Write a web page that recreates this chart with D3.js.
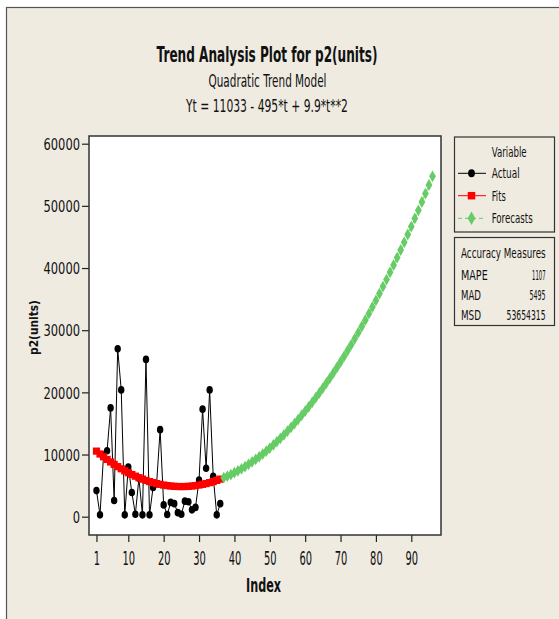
<!DOCTYPE html>
<html><head><meta charset="utf-8">
<script src="https://cdn.jsdelivr.net/npm/d3@7"></script>
<style>html,body{margin:0;padding:0;background:#fff;}svg{display:block;}</style>
</head><body>
<script>
// ---- data ----
const actualIndex = d3.range(1, 37);
const actual = [4200, 300, 9900, 10600, 17500, 2600, 27000, 20400, 300, 8000,
  3900, 400, 6200, 300, 25300, 300, 4700, 5300, 14000, 1900,
  350, 2300, 2100, 650, 400, 2500, 2400, 1100, 1500, 5900,
  17300, 7800, 20400, 6500, 300, 2100];
const fits = [10548, 10083, 9637, 9211, 8806, 8419, 8053, 7707, 7380, 7073,
  6786, 6519, 6271, 6043, 5836, 5647, 5479, 5331, 5202, 5093,
  5004, 4935, 4885, 4855, 4846, 4855, 4885, 4935, 5004, 5093,
  5202, 5331, 5479, 5647, 5836, 6043];
const forecastIndex = d3.range(37, 97);
const forecasts = [6271, 6519, 6786, 7073, 7380, 7707, 8053, 8419, 8806, 9211,
  9637, 10083, 10548, 11033, 11538, 12063, 12607, 13171, 13756, 14359,
  14983, 15627, 16290, 16973, 17676, 18399, 19141, 19903, 20686, 21487,
  22309, 23151, 24012, 24893, 25794, 26715, 27655, 28615, 29596, 30595,
  31615, 32655, 33714, 34793, 35892, 37011, 38149, 39307, 40486, 41683,
  42901, 44139, 45396, 46673, 47970, 49287, 50623, 51979, 53356, 54751];
const xTicks = [1, 10, 20, 30, 40, 50, 60, 70, 80, 90];
const yTicks = [0, 10000, 20000, 30000, 40000, 50000, 60000];
const titleText = "Trend Analysis Plot for p2(units)";
const subtitleText = "Quadratic Trend Model";
const equationText = "Yt = 11033 - 495*t + 9.9*t**2";
const legendLabels = ["Actual", "Fits", "Forecasts"];
const accuracyNames = ["MAPE", "MAD", "MSD"];
const accuracyValues = ["1107", "5495", "53654315"];

// ---- layout ----
const W = 559, H = 619;
const bg = "#EFEBE1";
const FONT = "'DejaVu Sans', Verdana, sans-serif";
const plot = {l: 89, t: 136, r: 441, b: 535};

const svg = d3.select("body").append("svg").attr("width", W).attr("height", H);
svg.append("rect").attr("x", 6.5).attr("y", 7.5).attr("width", 600).attr("height", 700)
  .attr("fill", bg).attr("stroke", "#555").attr("stroke-width", 1.2);

const x = d3.scaleLinear().domain([-1.109, 98.4]).range([plot.l, plot.r]);
const y = d3.scaleLinear().domain([-2944, 61239]).range([plot.b, plot.t]);

// text compressed horizontally to a target width
function squeeze(sel, tx, ty, w, extra) {
  const L = sel.node().getComputedTextLength();
  const sx = L > 0 ? w / L : 1;
  sel.attr("x", null).attr("y", null)
    .attr("transform", `translate(${tx},${ty}) ${extra || ""} scale(${sx},1)`);
  return sel;
}
function addText(tx, ty, txt, size, w, opts) {
  opts = opts || {};
  const t = svg.append("text").attr("font-family", FONT).attr("font-size", size)
    .attr("font-weight", opts.bold ? "bold" : "normal").attr("fill", "#111")
    .attr("text-anchor", opts.anchor || "start").text(txt);
  return squeeze(t, tx, ty, w, opts.extra);
}

// titles
addText(267, 61.5, titleText, 22, 221, {bold: true, anchor: "middle"});
addText(267.5, 86.5, subtitleText, 17, 118, {anchor: "middle"});
addText(267, 111.5, equationText, 17, 162, {anchor: "middle"});

// plot area
svg.append("rect").attr("x", plot.l).attr("y", plot.t).attr("width", plot.r - plot.l)
  .attr("height", plot.b - plot.t).attr("fill", "#fff");

// axes
const gx = svg.append("g").attr("transform", `translate(0,${plot.b})`)
  .call(d3.axisBottom(x).tickValues(xTicks).tickSize(7).tickSizeOuter(0).tickFormat(d3.format("d")));
gx.select(".domain").remove();
gx.selectAll(".tick line").attr("stroke", "#222").attr("stroke-width", 1.2);
gx.selectAll(".tick text").attr("dy", 0).attr("font-family", FONT)
  .attr("font-size", 19).attr("fill", "#111")
  .each(function(d) { const n = String(d).length; squeeze(d3.select(this), 0, 30, n * 6.3); });

const gy = svg.append("g").attr("transform", `translate(${plot.l},0)`)
  .call(d3.axisLeft(y).tickValues(yTicks).tickSize(7).tickSizeOuter(0).tickFormat(d3.format("d")));
gy.select(".domain").remove();
gy.selectAll(".tick line").attr("stroke", "#222").attr("stroke-width", 1.2);
gy.selectAll(".tick text").attr("dy", "0.36em").attr("font-family", FONT)
  .attr("font-size", 16).attr("fill", "#111")
  .each(function(d) { const n = String(d).length; squeeze(d3.select(this), -9, 0, n * 7.3); });

// axis titles
addText(263.5, 591.5, "Index", 19, 35, {bold: true, anchor: "middle"});
addText(38, 327.5, "p2(units)", 12, 55, {bold: true, anchor: "middle", extra: "rotate(-90)"});

// series
svg.append("clipPath").attr("id", "clip").append("rect")
  .attr("x", plot.l).attr("y", plot.t).attr("width", plot.r - plot.l).attr("height", plot.b - plot.t);
const g = svg.append("g").attr("clip-path", "url(#clip)");

const actualData = actualIndex.map((t, i) => ({t, v: actual[i]}));
const fitData = actualIndex.map((t, i) => ({t, v: fits[i]}));
const fcData = forecastIndex.map((t, i) => ({t, v: forecasts[i]}));
const line = d3.line().x(d => x(d.t)).y(d => y(d.v));

g.append("path").datum(actualData).attr("d", line).attr("fill", "none").attr("stroke", "#000").attr("stroke-width", 1);
g.selectAll(".pt").data(actualData).join("ellipse").attr("cx", d => x(d.t)).attr("cy", d => y(d.v))
  .attr("rx", 3.2).attr("ry", 3.8).attr("fill", "#000");

g.append("path").datum(fitData).attr("d", line).attr("fill", "none").attr("stroke", "#f00").attr("stroke-width", 1);
const sq = d3.symbol().type(d3.symbolSquare).size(52);
g.selectAll(".fit").data(fitData).join("path").attr("d", sq)
  .attr("transform", d => `translate(${x(d.t)},${y(d.v)})`).attr("fill", "#f00");

const green = "#66CC66";
g.append("path").datum(fcData).attr("d", line).attr("fill", "none").attr("stroke", green)
  .attr("stroke-width", 1).attr("stroke-dasharray", "4,3");
const dia = d3.symbol().type(d3.symbolDiamond).size(40);
g.selectAll(".fc").data(fcData).join("path").attr("d", dia)
  .attr("transform", d => `translate(${x(d.t)},${y(d.v)})`).attr("fill", green);

// plot border
svg.append("rect").attr("x", plot.l).attr("y", plot.t).attr("width", plot.r - plot.l)
  .attr("height", plot.b - plot.t).attr("fill", "none").attr("stroke", "#333").attr("stroke-width", 1.5);

// legend
svg.append("rect").attr("x", 454.5).attr("y", 137).attr("width", 100).attr("height", 95)
  .attr("fill", "none").attr("stroke", "#333").attr("stroke-width", 1.2);
addText(491.7, 156.7, "Variable", 14, 35);
const legendStyles = [
  {c: "#000", dash: null, sym: null},
  {c: "#f00", dash: null, sym: d3.symbol().type(d3.symbolSquare).size(56)},
  {c: green, dash: "4,3", sym: d3.symbol().type(d3.symbolDiamond).size(52)}
];
const legendWidths = [28, 14, 41];
const legendBase = [178.3, 200.7, 223.3];
legendLabels.forEach((lab, i) => {
  const cy = legendBase[i] - 5;
  const st = legendStyles[i];
  svg.append("line").attr("x1", 458).attr("x2", 486).attr("y1", cy).attr("y2", cy)
    .attr("stroke", st.c).attr("stroke-width", 1).attr("stroke-dasharray", st.dash);
  if (i === 0) svg.append("ellipse").attr("cx", 471.5).attr("cy", cy).attr("rx", 3.4).attr("ry", 4).attr("fill", st.c);
  else svg.append("path").attr("d", st.sym).attr("transform", `translate(471.5,${cy})`).attr("fill", st.c);
  addText(491.7, legendBase[i], lab, 14, legendWidths[i]);
});

// accuracy box
svg.append("rect").attr("x", 454.5).attr("y", 237.5).attr("width", 100).attr("height", 88)
  .attr("fill", "none").attr("stroke", "#333").attr("stroke-width", 1.2);
addText(461, 258, "Accuracy Measures", 14, 84.7);
const accBase = [279.5, 299.5, 319.5];
const accNameW = [26.7, 20, 20];
const accValW = [13.5, 16, 39];
accuracyNames.forEach((nm, i) => {
  addText(461, accBase[i], nm, 14, accNameW[i]);
  addText(545.5, accBase[i], accuracyValues[i], 14, accValW[i], {anchor: "end"});
});
</script>
</body></html>
